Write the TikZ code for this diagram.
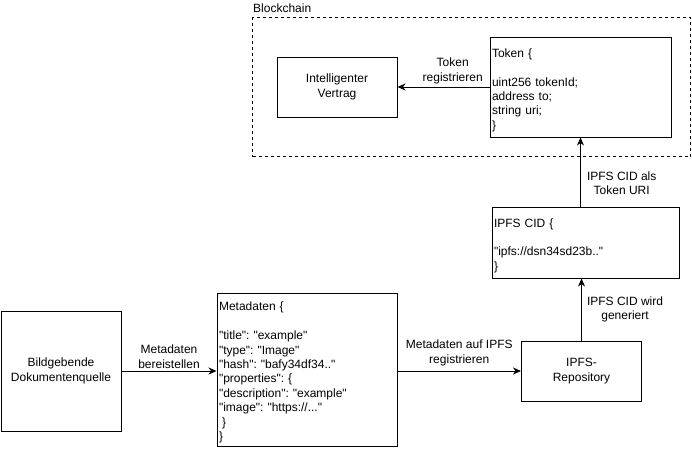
\documentclass[tikz,border=0pt]{standalone}
\usepackage{fontspec}
\setmainfont{Liberation Sans}[Ligatures=TeXOff]
\usetikzlibrary{arrows.meta}
\frenchspacing
\newcommand{\toppad}{\rule{0pt}{15pt}}
\tikzset{
  every node/.style={font=\fontsize{12}{14.4}\selectfont\frenchspacing},
  box/.style={draw, line width=1pt, inner sep=0pt, align=center},
  codebox/.style={draw, line width=1pt, inner ysep=0pt, inner xsep=2pt, align=left},
  conn/.style={line width=1pt, -{Stealth[length=8pt,width=7pt,inset=2.5pt]}},
  lbl/.style={align=center, inner sep=1pt},
}
\begin{document}
\begin{tikzpicture}[x=1pt,y=-1pt]
\useasboundingbox (0,0) rectangle (692,448);
% Blockchain container
\node[draw, dashed, dash pattern=on 3pt off 3pt, line width=1pt, minimum width=438pt, minimum height=139pt, inner sep=0pt, anchor=north west] (bc) at (252,17) {};
\node[anchor=west, inner sep=0pt] (bclabel) at (253,8) {Blockchain};
% Boxes
\node[box, minimum width=120pt, minimum height=60pt] (vertrag) at (337,87) {Intelligenter\\Vertrag};
\node[codebox, text width=177pt, minimum height=100pt] (token) at (580.5,87) {\toppad Token \{\\\mbox{}\\uint256 tokenId;\\address to;\\string uri;\\\}};
\node[codebox, text width=183pt, minimum height=71pt] (cid) at (585.5,242.5) {\toppad IPFS CID \{\\\mbox{}\\"ipfs://dsn34sd23b.."\\\}};
\node[box, minimum width=120pt, minimum height=60pt] (repo) at (581.5,371) {IPFS-\\Repository};
\node[codebox, text width=176pt, minimum height=153pt] (meta) at (307,369.5) {\toppad Metadaten \{\\\mbox{}\\"title": "example"\\"type": "Image"\\"hash": "bafy34df34.."\\"properties": \{\\"description": "example"\\"image": "https://..."\\\hspace{3pt}\}\\\}};
\node[box, minimum width=120pt, minimum height=120pt] (bild) at (61,371) {Bildgebende\\Dokumentenquelle};
% Connectors
\draw[conn] (token.west) -- (vertrag.east)
  node[lbl, pos=0.4, anchor=south, yshift=2pt] (l1) {Token\\registrieren};
\draw[conn] (bild.east) -- (bild.east -| meta.west)
  node[lbl, midway, anchor=south, yshift=1pt] (l2) {Metadaten\\bereistellen};
\draw[conn] (meta.east |- repo.west) -- (repo.west)
  node[lbl, midway, anchor=south, yshift=4pt] (l3) {Metadaten auf IPFS\\registrieren};
\draw[conn] (repo.north) -- (repo.north |- cid.south)
  node[lbl, midway, anchor=west, xshift=4pt] (l4) {IPFS CID wird\\generiert};
\draw[conn] (cid.north -| token.south) -- (token.south)
  node[lbl, pos=0.34, anchor=west, xshift=5pt] (l5) {IPFS CID als\\Token URI};
\end{tikzpicture}
\end{document}
